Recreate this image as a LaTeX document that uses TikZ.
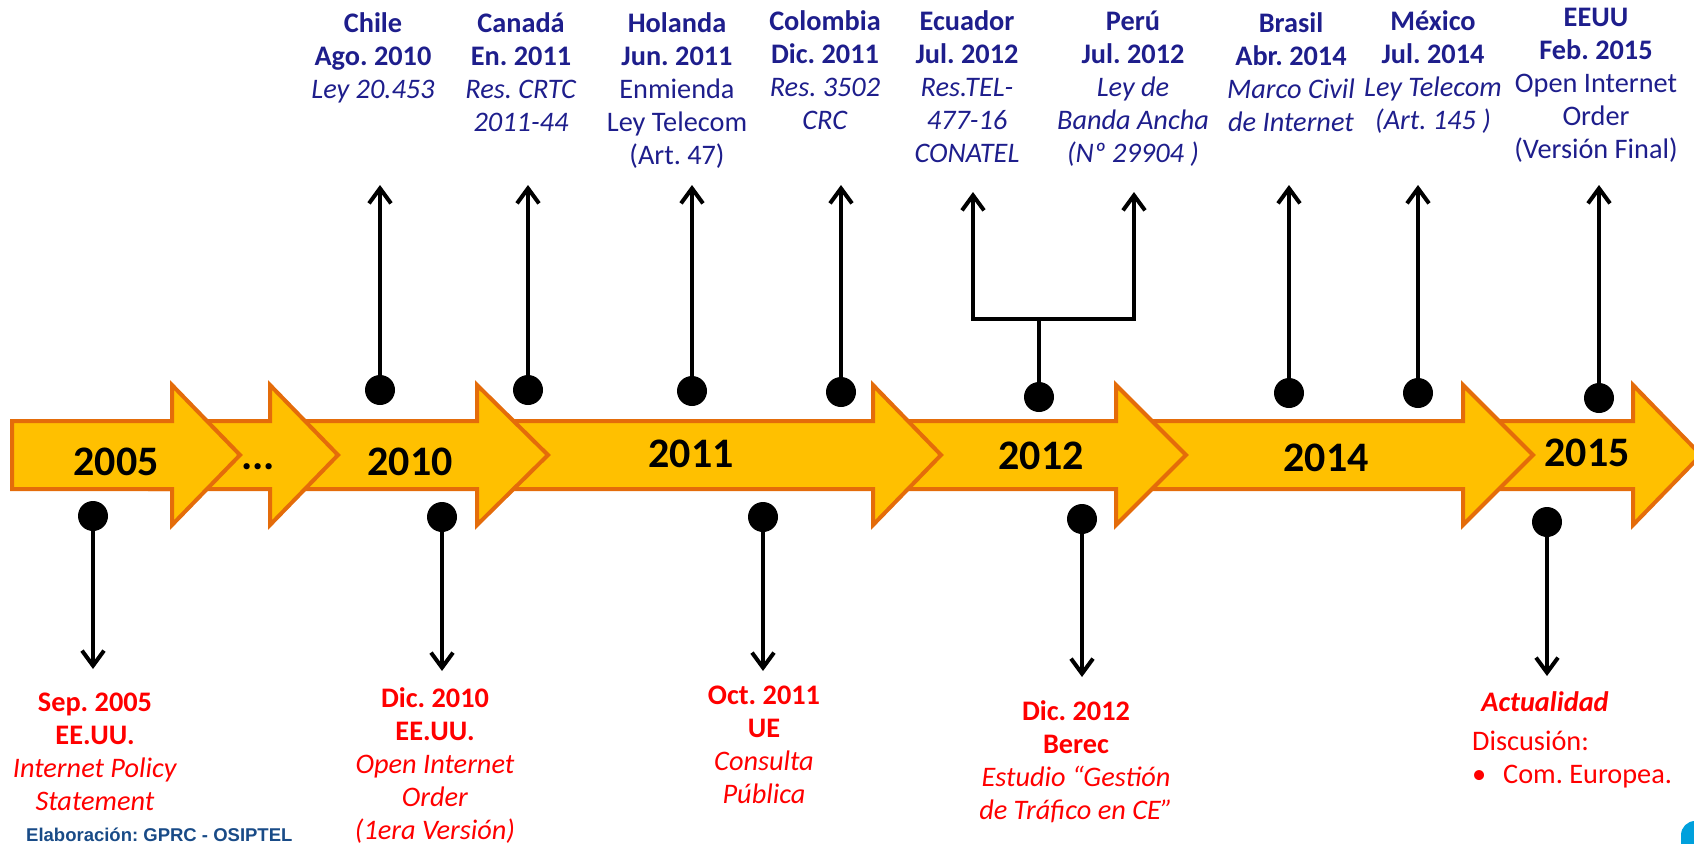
\documentclass[tikz,border=0pt]{standalone}
\usepackage{fontspec}
\setmainfont{Carlito}
\newfontfamily\arialfont{Liberation Sans}
\usetikzlibrary{arrows.meta}
\frenchspacing
\definecolor{arrfill}{RGB}{255,192,0}
\definecolor{arrline}{RGB}{228,108,10}
\definecolor{evblue}{RGB}{30,30,140}
\definecolor{evred}{RGB}{255,0,0}
\definecolor{credblue}{RGB}{25,75,135}
\definecolor{logoblue}{RGB}{0,160,220}
\newcommand\tlarrow[3]{\draw[blockarrow] (#1,421) -- (#2,421) -- (#2,385) -- (#3,455) -- (#2,525) -- (#2,489) -- (#1,489) -- cycle;}
\begin{document}
\begin{tikzpicture}[x=1pt,y=-1pt,
  blockarrow/.style={fill=arrfill,draw=arrline,line width=4pt,line join=miter},
  yearlbl/.style={font=\fontsize{42pt}{50pt}\selectfont\bfseries,inner sep=0pt},
  dotnode/.style={circle,fill=black,minimum size=30pt,inner sep=0pt},
  evline/.style={line width=4pt,draw=black},
  evarrow/.style={evline,-{Straight Barb[length=15pt,width=22pt]}},
  toplbl/.style={text=evblue,align=center,inner sep=0pt,anchor=north,font=\fontsize{28.3pt}{33pt}\selectfont\frenchspacing},
  botlbl/.style={toplbl,text=evred},
]
\useasboundingbox (0,0) rectangle (1694,843);
\clip (0,0) rectangle (1694,843);

% timeline block arrows (drawn right to left so earlier heads overlap)
\tlarrow{1500}{1633}{1701}
\tlarrow{1150}{1463}{1533}
\tlarrow{900}{1116}{1186}
\tlarrow{500}{873}{941}
\tlarrow{300}{477}{548}
\tlarrow{150}{270}{338}
\tlarrow{12}{172}{240}

% years
\node[yearlbl] (y2005) at (116,462) {2005};
\node[yearlbl] (ydots) at (258,467) {...};
\node[yearlbl] (y2010) at (410,462) {2010};
\node[yearlbl] (y2011) at (691,454) {2011};
\node[yearlbl] (y2012) at (1041,456) {2012};
\node[yearlbl] (y2014) at (1326,458) {2014};
\node[yearlbl] (y2015) at (1587,453) {2015};

% upper events
\node[dotnode] (dchile) at (380,390) {};
\node[dotnode] (dcanada) at (528,390) {};
\node[dotnode] (dholanda) at (692,391) {};
\node[dotnode] (dcolombia) at (841,392) {};
\node[dotnode] (decpe) at (1039,397) {};
\node[dotnode] (dbrasil) at (1289,393) {};
\node[dotnode] (dmexico) at (1418,393) {};
\node[dotnode] (deeuu) at (1599,398) {};

\coordinate (tchile) at (380,185);
\coordinate (tcanada) at (528,185);
\coordinate (tholanda) at (692,185);
\coordinate (tcolombia) at (841,185);
\coordinate (fk) at (1039,319);
\coordinate (fkl) at (973,319);
\coordinate (fkr) at (1134,319);
\coordinate (tecuador) at (973,192);
\coordinate (tperu) at (1134,192);
\coordinate (tbrasil) at (1289,185);
\coordinate (tmexico) at (1418,185);
\coordinate (teeuu) at (1599,185);

\draw[evarrow] (dchile.center) -- (tchile);
\draw[evarrow] (dcanada.center) -- (tcanada);
\draw[evarrow] (dholanda.center) -- (tholanda);
\draw[evarrow] (dcolombia.center) -- (tcolombia);
\draw[evline] (decpe.center) -- (fk);
\draw[evarrow] (fk) -- (fkl) -- (tecuador);
\draw[evarrow] (fk) -- (fkr) -- (tperu);
\draw[evarrow] (dbrasil.center) -- (tbrasil);
\draw[evarrow] (dmexico.center) -- (tmexico);
\draw[evarrow] (deeuu.center) -- (teeuu);

% lower events
\node[dotnode] (dsep05) at (93,516) {};
\node[dotnode] (ddic10) at (442,517) {};
\node[dotnode] (doct11) at (763,517) {};
\node[dotnode] (ddic12) at (1082,519) {};
\node[dotnode] (dactual) at (1547,522) {};

\coordinate (tsep05) at (93,669);
\coordinate (tdic10) at (442,671);
\coordinate (toct11) at (763,671);
\coordinate (tdic12) at (1082,677);
\coordinate (tactual) at (1547,676);

\draw[evarrow] (dsep05.center) -- (tsep05);
\draw[evarrow] (ddic10.center) -- (tdic10);
\draw[evarrow] (doct11.center) -- (toct11);
\draw[evarrow] (ddic12.center) -- (tdic12);
\draw[evarrow] (dactual.center) -- (tactual);

% upper labels
\node[toplbl] (lchile) at (373,9) {\strut\textbf{Chile}\\\textbf{Ago. 2010}\\\textit{Ley 20.453}};
\node[toplbl] (lcanada) at (521,9) {\strut\textbf{Canadá}\\\textbf{En. 2011}\\\textit{Res. CRTC}\\\textit{2011-44}};
\node[toplbl] (lholanda) at (677,9) {\strut\textbf{Holanda}\\\textbf{Jun. 2011}\\Enmienda\\Ley Telecom\\(Art. 47)};
\node[toplbl] (lcolombia) at (825,7) {\strut\textbf{Colombia}\\\textbf{Dic. 2011}\\\textit{Res. 3502}\\\textit{CRC}};
\node[toplbl] (lecuador) at (967,7) {\strut\textbf{Ecuador}\\\textbf{Jul. 2012}\\\textit{Res.TEL-}\\\textit{477-16}\\\textit{CONATEL}};
\node[toplbl] (lperu) at (1133,7) {\strut\textbf{Perú}\\\textbf{Jul. 2012}\\\textit{Ley de}\\\textit{Banda Ancha}\\\textit{(Nº 29904 )}};
\node[toplbl] (lbrasil) at (1291,9) {\strut\textbf{Brasil}\\\textbf{Abr. 2014}\\\textit{Marco Civil}\\\textit{de Internet}};
\node[toplbl] (lmexico) at (1433,7) {\strut\textbf{México}\\\textbf{Jul. 2014}\\\textit{Ley Telecom}\\\textit{(Art. 145 )}};
\node[toplbl] (leeuu) at (1596,3) {\strut\textbf{EEUU}\\\textbf{Feb. 2015}\\Open Internet\\Order\\(Versión Final)};

% lower labels
\node[botlbl] (lsep05) at (95,688) {\strut\textbf{Sep. 2005}\\\textbf{EE.UU.}\\\textit{Internet Policy}\\\textit{Statement}};
\node[botlbl] (ldic10) at (435,684) {\strut\textbf{Dic. 2010}\\\textbf{EE.UU.}\\\textit{Open Internet}\\\textit{Order}\\\textit{(1era Versión)}};
\node[botlbl] (loct11) at (764,681) {\strut\textbf{Oct. 2011}\\\textbf{UE}\\\textit{Consulta}\\\textit{Pública}};
\node[botlbl] (ldic12) at (1076,697) {\strut\textbf{Dic. 2012}\\\textbf{Berec}\\\textit{Estudio “Gestión}\\\textit{de Tráfico en CE”}};
\node[botlbl] (lactual) at (1545,688) {\strut\textbf{\textit{Actualidad}}};
\node[botlbl,anchor=north west,align=left] (ldisc) at (1472,727) {\strut Discusión:\\\makebox[31pt][l]{\textbullet}Com. Europea.};

% credit
\node[anchor=base west,inner sep=0pt,text=credblue,font=\arialfont\bfseries\fontsize{18.5pt}{20pt}\selectfont] (cred) at (26,841) {Elaboración: GPRC - OSIPTEL};

% partial logo shape at the corner
\fill[logoblue,rounded corners=14pt] (1681,821) rectangle (1730,880);
\end{tikzpicture}
\end{document}
